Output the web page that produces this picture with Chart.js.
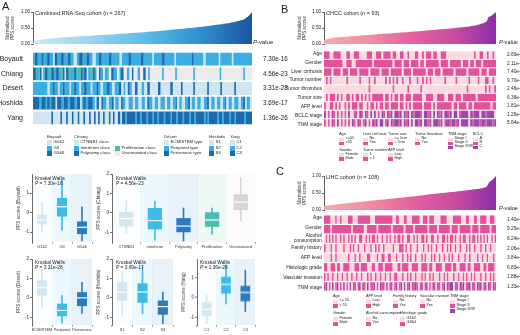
<!DOCTYPE html>
<html><head><meta charset="utf-8">
<script src="https://cdn.jsdelivr.net/npm/chart.js@4.4.1/dist/chart.umd.min.js"></script>
<style>
html,body{margin:0;padding:0;background:#fff}
#wrap{position:relative;width:520px;height:335px;overflow:hidden;font-family:"Liberation Sans",Arial,sans-serif;color:#222}
#wrap canvas{position:absolute}
.t{position:absolute;white-space:nowrap;line-height:1}
.r{position:absolute;white-space:nowrap;line-height:1.05;text-align:right}
.sq{position:absolute}
</style></head><body><div id="wrap"></div>
<script>
// ---------------- DATA ----------------
// sorted normalized PPS scores (x100)
const areaA = [4,6,8,9,10,11,12,12,13,13, 14,14,15,15,15,16,16,16,16,17, 17,17,17,18,18,18,18,19,19,19, 19,19,20,20,20,20,20,21,21,21, 21,21,22,22,22,22,22,22,23,23, 23,23,23,23,24,24,24,24,24,24, 24,25,25,25,25,25,25,25,26,26, 26,26,26,26,26,27,27,27,27,27, 27,28,28,28,28,28,28,29,29,29, 29,29,29,30,30,30,30,30,30,31, 31,31,31,31,31,32,32,32,32,32, 32,33,33,33,33,33,33,34,34,34, 34,34,34,35,35,35,35,35,36,36, 36,36,36,37,37,37,37,37,38,38, 38,38,38,39,39,39,39,40,40,40, 40,40,41,41,41,41,42,42,42,42, 42,43,43,43,43,44,44,44,44,45, 45,45,45,46,46,46,46,47,47,47, 47,48,48,48,48,49,49,49,49,50, 50,50,50,51,51,51,51,52,52,52, 52,53,53,53,54,54,54,55,55,55, 55,56,56,56,57,57,57,58,58,58, 59,59,59,60,60,61,61,61,62,62, 62,63,63,64,64,64,65,65,66,66, 67,67,68,68,69,69,70,70,71,72, 72,73,74,74,75,76,77,78,80,82, 84,86,88,91,94,97,100];
const areaB = [11,14,16,17,18,19,20,21,21,22, 22,23,23,23,24,24,25,25,26,26, 27,27,28,28,28,29,29,30,30,31, 31,31,32,32,33,33,33,34,34,35, 35,36,36,37,37,37,38,38,39,39, 40,40,41,41,42,42,43,43,44,44, 45,45,46,46,47,47,48,48,49,49, 50,51,51,52,52,53,54,54,55,56, 57,58,59,61,63,65,67,70,84,87, 91,95,100];
const areaC = [10,12,13,14,14,15,15,16,17,17, 18,18,19,19,20,20,21,21,22,22, 23,23,24,24,25,25,26,26,27,27, 28,28,29,29,30,30,30,31,31,32, 32,33,33,34,34,35,35,36,36,37, 37,38,38,39,39,40,40,41,41,42, 43,43,44,45,45,46,46,47,47,48, 48,49,49,50,50,51,51,52,52,53, 53,54,54,55,55,56,56,57,57,58, 59,59,60,60,61,62,62,63,64,65, 66,68,76,83,86,90,95,100];

// Panel A heatmap: one code per sample (ordered by PPS score)
const rowsA = ['Boyault','Chiang','Désert','Hoshida','Yang'];
const pA = ['7.30e-16','4.56e-23','3.31e-28','3.69e-17','1.36e-26'];
const boyault = "2233322222 3322222333 2222113332 2222333222 2233322221 1112223333 2222233322 2211112222 3332222222 2233322222 2222211122 2222223332 2222222222 2333222222 2222211222 2222222333 2222222222 2211222222 2222222222 2223322222 2222222111 2222222222 2222221122 2222222222 2211222222 2222222222 2222222";
const chiang = "3332224433 1122333222 4433322233 3224443311 3334442222 3322444433 2233311222 4443322555 3322255222 4455533322 2255522333 5555222555 3355555222 5555333555 2255555555 5555555225 5555555555 5552255555 5555555555 5555522555 5555555555 5555555555 5555555225 5555555555 5555555555 5555552255 5555555";
const desert = "2222222222 2222222111 2222332222 1122223322 2222112222 3322221122 2233322222 1122222332 2211122222 3332221112 2222333111 2211133222 1111333111 1122211113 3311111111 1133311111 1111111333 1111111111 3311111111 1111133111 1111111111 1133111111 1111111133 1111111111 1111133111 1111111111 1111111";
const hoshida = "3333333222 3333322333 2233333113 3333222333 3322233333 2223333112 2333222333 3322211333 1113322221 1122223311 2222111332 2211112222 3111222211 1122221113 3222211122 2211122223 1112222111 2222311122 2111122223 3112222111 2222111122 2233111222 2111222211 1222311122 2211122222 1112223311 2222111";
const yang = "1111111111 1111111111 1133111111 1113311111 3311111331 1111331111 1331111133 1111331113 3111133111 1133111331 1113331133 3322333333 3333223333 2233333322 3333322333 3223333332 2333333223 3333223333 3322333333 2233332233 3333333322 3322333333 3333223333 2233333332 2333322333 3333333223 3333333";

// Panel B heatmap (CHCC, n = 93)
const rowsB = ['Age','Gender','Liver cirrhosis','Tumor number','Tumor thrombus','Tumor size','AFP level','BCLC stage','TNM stage'];
const pB = ['2.69e-02','2.11e-01','7.40e-01','9.70e-01','2.46e-04','6.36e-05','1.81e-03','1.26e-04','5.64e-03'];
const bAge    = "1110011110 0011001110 0001110011 1011110110 0110010001 1001011101 1001110000 0000000000 0100110010 010";
const bGender = "1111111111 0011100111 1111110111 1111111011 1101110111 1011011111 1101111011 1111011101 1011101111 111";
const bCirr   = "1111011110 1110111101 1111011111 0111101111 1101111011 1111101110 1110111111 0111111011 1111011101 111";
const bNum    = "0101000000 0010000001 0000100100 0001010101 0010001000 1001010100 0000010000 0100000010 0001000110 010";
const bThromb = "0000000000 0000000000 0000100000 0000000100 0000010000 0010000000 0000000000 0000000100 0000000101 001";
const bSize   = "0101110101 0011010110 1010101111 1101101011 0110111011 1110011110 0111100111 0111011111 1101111111 111";
const bAFP    = "1001101010 0101011101 1001011010 1101101111 0110101011 1110111101 0111111110 1101111011 0111111111 011";
const bBCLC   = "2010210101 0102001102 1021020201 0210212022 1202120212 2210221202 0212022120 2201222202 1222022122 220";
const bTNM    = "1010210201 0101021021 0120102120 2201202122 1202120202 2120221202 2212012212 2120222202 1222122122 212";

// Panel C heatmap (LIHC, n = 108)
const rowsC = ['Age','Gender',['Alcohol','consumption'],'Family history','AFP level','Histologic grade','Vascular invasion','TNM stage'];
const pC = ['1.40e-01','9.25e-01','6.24e-01','2.06e-01','3.84e-04','6.83e-01','1.88e-01','1.33e-03'];
const cAge    = "1111000100 1000011100 0111111110 0011111111 1110011000 1100011111 0011101110 0001111000 0111110001 1000110011 11001110";
const cGender = "1111011111 1111111011 1111100111 1110111111 1101111111 0111110111 1111101111 1011111110 1111011111 1101111011 11110111";
const cAlc    = "0101010100 1010010101 0011001010 1101001001 0100101101 0011001010 0110100110 0100110101 1010010110 0101101010 10100101";
const cFam    = "1000100100 0010001010 0100010001 0010100100 0001000111 0100100010 0010010100 1000100101 0010010001 0100100010 01001000";
const cAFP    = "0000100100 0000010001 0010000110 0001001100 1100010001 0010100100 0101000101 0010010010 1000100010 0100001001 00100010";
const cGrade  = "1100111011 0011110001 1101111000 1100111011 1110001101 1110011110 0111101100 1111001111 0110011110 1100111100 11011110";
const cVasc   = "1010010010 0100100100 1001000101 0010010010 0100110001 0010100100 0101001010 0010010100 0100100101 0010100010 01001010";
const cTNM    = "1201020120 1020102012 0120210201 1201021102 0210120120 2012011210 1201201021 0210120212 2012021201 1202102120 21021021";

// Boxplots: [lower whisker, Q1, median, Q3, upper whisker]
const boyaultCats = ['G1&2','G3','G5&6'];
const boyaultStats = [[-1.0,-0.6,-0.37,-0.1,0.53],[-0.9,-0.2,0.3,0.75,1.7],[-1.45,-1.1,-0.75,-0.45,0.3]];
const chiangCats = ['CTNNB1','Interferon','Polysomy','Proliferation','Unannotated'];
const chiangStats = [[-1.1,-0.7,-0.3,0.05,0.65],[-1.4,-0.85,-0.4,0.25,0.6],[-1.45,-1.0,-0.68,-0.27,0.25],[-1.1,-0.72,-0.37,0.03,0.25],[-0.4,0.15,0.55,0.95,1.8]];
const desertCats = ['ECM/STEM','Periportal','Perivenous'];
const desertStats = [[-0.5,0.12,0.52,0.9,1.45],[-1.3,-0.95,-0.65,-0.3,0.12],[-0.8,-0.43,0.0,0.29,0.8]];
const hoshidaCats = ['S1','S2','S3'];
const hoshidaStats = [[-0.95,-0.14,0.29,0.8,1.35],[-0.82,-0.25,0.3,0.75,1.6],[-1.33,-0.87,-0.45,-0.14,0.29]];
const yangCats = ['C1','C2','C3'];
const yangStats = [[-1.33,-0.96,-0.6,-0.23,0.12],[-0.32,0.2,0.67,1.07,1.65],[-0.72,-0.19,0.26,0.6,1.4]];

// ---------------- STYLE ----------------
const LB='#cfe6f2', MB='#3aaee2', DB='#1f69ad', TEAL='#4dbdb0', GREY='#ebebeb';
const BLB='#d3e7f1', BMB='#3fbbeb', BDB='#2c7cbd', BGREY='#d6d6d6';
const LP='#fbd9de', HP='#e3519b', PU='#964aa9';
const blueStops=['#cbe8f6','#9dd6f1','#5fbde9','#2f93d2','#1a55a0'];
const pinkStops=['#f6aaa8','#f08fa4','#e4639e','#cb4d9f','#8b2ea8'];
const FONT = '"Liberation Sans", Arial, sans-serif';
Chart.defaults.font.family = FONT;
Chart.defaults.color = '#222';

const wrap = document.getElementById('wrap');
function mk(l,t,w,h,cfg){
  const c=document.createElement('canvas');
  c.width=w;c.height=h;
  c.style.cssText=`left:${l}px;top:${t}px;width:${w}px;height:${h}px`;
  wrap.appendChild(c);
  cfg.options=Object.assign({responsive:false,maintainAspectRatio:false,animation:false,devicePixelRatio:1,events:[]},cfg.options||{});
  cfg.options.plugins=Object.assign({legend:{display:false},tooltip:{enabled:false}},cfg.options.plugins||{});
  return new Chart(c,cfg);
}
function txt(html,l,t,size,extra){
  const d=document.createElement('div');d.className='t';d.innerHTML=html;
  d.style.left=l+'px';d.style.top=t+'px';d.style.fontSize=size+'px';
  if(extra)Object.assign(d.style,extra);
  wrap.appendChild(d);return d;
}
function sq(l,t,w,h,c){const d=document.createElement('div');d.className='sq';d.style.cssText=`left:${l}px;top:${t}px;width:${w}px;height:${h}px;background:${c}`;wrap.appendChild(d);}
function hexA(h,a){const n=parseInt(h.slice(1),16);return `rgba(${n>>16},${(n>>8)&255},${n&255},${a})`;}
const clean=s=>s.replace(/ /g,'');

// ---------------- AREA CHARTS ----------------
function area(l,t,plotL,plotT,plotR,plotB,vals,stops){
  const w=plotR-l+2,h=plotB-t+4;
  mk(l,t,w,h,{type:'line',data:{labels:vals.map((_,i)=>i+1),datasets:[{data:vals.map(v=>v/100),fill:'origin',pointRadius:0,borderWidth:0,borderColor:'rgba(0,0,0,0)',tension:0,
    backgroundColor:(ctx)=>{const a=ctx.chart.chartArea;if(!a)return stops[0];const g=ctx.chart.ctx.createLinearGradient(a.left,0,a.right,0);stops.forEach((s,i)=>g.addColorStop(i/(stops.length-1),s));return g;}}]},
    options:{layout:{padding:{left:0,top:plotT-t,right:2,bottom:4}},
      scales:{x:{display:false},
        y:{min:0,max:1,ticks:{stepSize:0.25,callback:v=>v.toFixed(2),font:{size:4.6},padding:1,color:'#222'},
          grid:{drawOnChartArea:false,tickLength:2,color:'#333',lineWidth:0.7},border:{display:true,color:'#333',width:0.8},
          title:{display:true,text:['Normalized','PPS scores'],font:{size:4.5,lineHeight:1.15},padding:0,color:'#333'},
          afterFit:s=>{s.width=plotL-l;}}}}});
}
area(5,6,33,12,252,44,areaA,blueStops);
area(297,6,324,12,496,44,areaB,pinkStops);
area(297,170,324,176,496,210,areaC,pinkStops);

// ---------------- HEATMAPS (runs of equal codes as floating horizontal bars) ----------------
function runs(s){const out=[];let st=0;for(let i=1;i<=s.length;i++){if(i===s.length||s[i]!==s[st]){out.push([st,i,s[st]]);st=i;}}return out;}
function heat(l,t,w,plotL,plotT,plotR,plotB,rows,codes,pal,pv,fs,pfs,bp,ov,chartLabels){
  const h=plotB-t+4,n=codes[0].length;
  const R=codes.map(runs),K=Math.max(...R.map(r=>r.length));
  const datasets=[];
  for(let k=0;k<K;k++) datasets.push({
    data:R.map(r=>r[k]?[r[k][0],r[k][1]+ov]:null),
    backgroundColor:R.map((r,i)=>r[k]?pal[i][+r[k][2]]:'rgba(0,0,0,0)'),
    borderWidth:0,grouped:false,barPercentage:bp,categoryPercentage:1});
  mk(l,t,w,h,{type:'bar',data:{labels:rows,datasets},
    options:{indexAxis:'y',layout:{padding:{left:chartLabels?0:plotL-l,top:plotT-t,right:0,bottom:4}},
      scales:{x:{type:'linear',min:0,max:n,display:false},
        y:chartLabels?{ticks:{autoSkip:false,font:{size:fs,lineHeight:1.05},padding:2,color:'#222'},
          grid:{display:false},border:{display:false},afterFit:s=>{s.width=plotL-l;}}:{display:false},
        y2:{type:'category',labels:pv,position:'right',offset:true,
          ticks:{autoSkip:false,font:{size:pfs},padding:3,color:'#222'},
          grid:{display:false},border:{display:false},afterFit:s=>{s.width=l+w-plotR;}}}}});
  if(!chartLabels){
    const step=(plotB-plotT)/rows.length;
    rows.forEach((r,i)=>{const lines=Array.isArray(r)?r:[r];const d=document.createElement('div');d.className='r';
      d.innerHTML=lines.join('<br>');d.style.fontSize=fs+'px';d.style.right=(520-(plotL-2))+'px';
      d.style.top=(plotT+step*(i+0.5)-fs*1.05*lines.length/2)+'px';wrap.appendChild(d);});
  }
}
const palBlue=[null,LB,MB,DB];
heat(0,45,292,33,49,252,128,rowsA,[boyault,chiang,desert,hoshida,yang].map(clean),
  [palBlue,[null,LB,MB,DB,TEAL,GREY],palBlue,palBlue,palBlue],pA,7,6.3,0.87,0.4,true);
const palPink=[LP,HP,PU];
heat(300,45,220,324,49,496,129,rowsB,[bAge,bGender,bCirr,bNum,bThromb,bSize,bAFP,bBCLC,bTNM].map(clean),
  rowsB.map(()=>palPink),pB,5,4.8,0.88,0,false);
heat(300,209,220,324,213,496,293,rowsC,[cAge,cGender,cAlc,cFam,cAFP,cGrade,cVasc,cTNM].map(clean),
  rowsC.map(()=>palPink),pC,5,4.8,0.88,0,false);

// ---------------- BOXPLOTS ----------------
function boxp(plotL,plotT,plotR,plotB,cats,cols,stats,ymin,ymax,ytitle){
  const l=plotL-16,t=plotT-4,w=plotR-l+3,h=plotB-t+11;
  mk(l,t,w,h,{type:'bar',data:{labels:cats,datasets:[
    {data:stats.map(s=>[s[2]-0.03,s[2]+0.03]),backgroundColor:'#ffffff',borderWidth:0,barPercentage:0.5,categoryPercentage:1,grouped:false,order:0},
    {data:stats.map(s=>[s[1],s[3]]),backgroundColor:cols,borderWidth:0,barPercentage:0.5,categoryPercentage:1,grouped:false,order:1},
    {data:stats.map(s=>[s[0],s[4]]),backgroundColor:cols,borderWidth:0,barThickness:1,grouped:false,order:2},
    {data:cats.map(()=>[ymin,ymax]),backgroundColor:cols.map(c=>hexA(c,0.1)),borderWidth:0,barPercentage:1,categoryPercentage:1,grouped:false,order:3}]},
    options:{layout:{padding:{left:0,top:4,right:3,bottom:0}},
      scales:{
        x:{ticks:{font:{size:3.9},padding:1,maxRotation:0,autoSkip:false,color:'#333'},grid:{drawOnChartArea:false,tickLength:2,color:'#666',lineWidth:0.6},border:{display:false},afterFit:s=>{s.height=11;}},
        y:{min:ymin,max:ymax,ticks:{stepSize:1,includeBounds:false,font:{size:4.6},padding:1,color:'#333'},
          grid:{drawOnChartArea:false,tickLength:2,color:'#333',lineWidth:0.7},border:{display:true,color:'#333',width:0.8},
          title:{display:true,text:ytitle,font:{size:4.6},padding:0,color:'#333'},afterFit:s=>{s.width=16;}}}}});
}
const colBlue=[BLB,BMB,BDB];
boxp(32,174,92,242,boyaultCats,colBlue,boyaultStats,-1.5,1.97,'PPS scores (Boyault)');
boxp(112,174,255,242,chiangCats,[BLB,BMB,BDB,TEAL,BGREY],chiangStats,-1.5,2,'PPS scores (Chiang)');
boxp(32,258.5,92,324.5,desertCats,colBlue,desertStats,-1.4,2,'PPS scores (Désert)');
boxp(112,258.5,173,324.5,hoshidaCats,colBlue,hoshidaStats,-1.4,2,'PPS scores (Hoshida)');
boxp(197,259,255,324.5,yangCats,colBlue,yangStats,-1.4,1.97,'PPS scores (Yang)');

const kw=[[35,177,'7.30e-16'],[116,177,'4.56e-23'],[35,261,'3.31e-28'],[116,261,'3.69e-17'],[200,261,'1.36e-26']];
kw.forEach(([x,y,p])=>{txt('Kruskal Wallis',x,y,4.8);txt('<i>P</i> = '+p,x,y+5,4.8);});

// ---------------- TEXT ----------------
txt('A',2,1,11);txt('B',281,4,11);txt('C',276,166,11);
txt('Combined RNA-Seq cohort (n = 267)',35,10.5,5.5);
txt('CHCC cohort (n = 93)',326,10.5,5.5);
txt('LIHC cohort (n = 108)',326,174.5,5.5);
txt('<i>P</i>-value',253,39,6);
txt('<i>P</i>-value',499,40,5.6);
txt('<i>P</i>-value',499,206,5.6);

// ---------------- LEGENDS ----------------
function leg(x,yT,title,entries,y0,dy,fs,sw,sh){
  if(title) txt(title,x,yT-fs*0.55,fs);
  entries.forEach(([c,lab],i)=>{const yc=y0+dy*i;sq(x,yc-sh/2,sw,sh,c);txt(lab,x+sw+1.5,yc-fs*0.55,fs);});
}
// Panel A legend
leg(47,137,'Boyault',[[LB,'G1&amp;2'],[MB,'G3'],[DB,'G5&amp;6']],142.5,5.6,4.3,5,5);
leg(74,137,'Chiang',[[LB,'CTNNB1 class'],[MB,'Interferon class'],[DB,'Polysomy class']],142.5,5.6,4.3,5,5);
leg(115,137,'',[[TEAL,'Proliferation class'],[GREY,'Unannotated class']],148.1,5.6,4.3,5,5);
leg(164,137,'Désert',[[LB,'ECM/STEM type'],[MB,'Periportal type'],[DB,'Perivenous type']],142.5,5.6,4.3,5,5);
leg(209,137,'Hoshida',[[LB,'S1'],[MB,'S2'],[DB,'S3']],142.5,5.6,4.3,5,5);
leg(230,137,'Yang',[[LB,'C1'],[MB,'C2'],[DB,'C3']],142.5,5.6,4.3,5,5);
// Panel B legend
const fB=3.8;
leg(339,135.5,'Age',[[LP,'&lt;=55'],[HP,'&gt;55']],139.5,4,fB,5,3.6);
leg(363,135.5,'Liver cirrhosis',[[LP,'No'],[HP,'Yes']],139.5,4,fB,5,3.6);
leg(388,135.5,'Tumor size',[[LP,'&lt;= 5cm'],[HP,'&gt; 5cm']],139.5,4,fB,5,3.6);
leg(415,135.5,'Tumor thrombus',[[LP,'No'],[HP,'Yes']],139.5,4,fB,5,3.6);
leg(448,135.5,'TNM stage',[[LP,'Stage I'],[HP,'Stage II'],[PU,'Stage III/IV']],139.5,4,fB,5,3.6);
leg(473,135.5,'BCLC',[[LP,'A'],[HP,'B'],[PU,'C']],139.5,4,fB,5,3.6);
leg(339,151,'Gender',[[LP,'Female'],[HP,'Male']],155,4,fB,5,3.6);
leg(363,151,'Tumor number',[[LP,'1'],[HP,'&gt; 1']],155,4,fB,5,3.6);
leg(388,151,'AFP level',[[LP,'Low'],[HP,'High']],155,4,fB,5,3.6);
// Panel C legend
leg(333,297,'Age',[[LP,'&lt;= 55'],[HP,'&gt; 55']],301.5,4.5,fB,5,4);
leg(366,297,'AFP level',[[LP,'Low'],[HP,'High']],301.5,4.5,fB,5,4);
leg(393,297,'Family history',[[LP,'No'],[HP,'Yes']],301.5,4.5,fB,5,4);
leg(420,297,'Vascular invasion',[[LP,'No'],[HP,'Yes']],301.5,4.5,fB,5,4);
leg(450,297,'TNM stage',[[LP,'Stage I'],[HP,'Stage II'],[PU,'Stage III/IV']],301.5,4.5,fB,5,4);
leg(333,314.5,'Gender',[[LP,'Female'],[HP,'Male']],319,4.5,fB,5,4);
leg(366,314.5,'Alcohol consumption',[[LP,'No'],[HP,'Yes']],319,4.5,fB,5,4);
leg(400,314.5,'Histologic grade',[[LP,'G1&amp;2'],[HP,'G3&amp;4']],319,4.5,fB,5,4);
</script></body></html>
